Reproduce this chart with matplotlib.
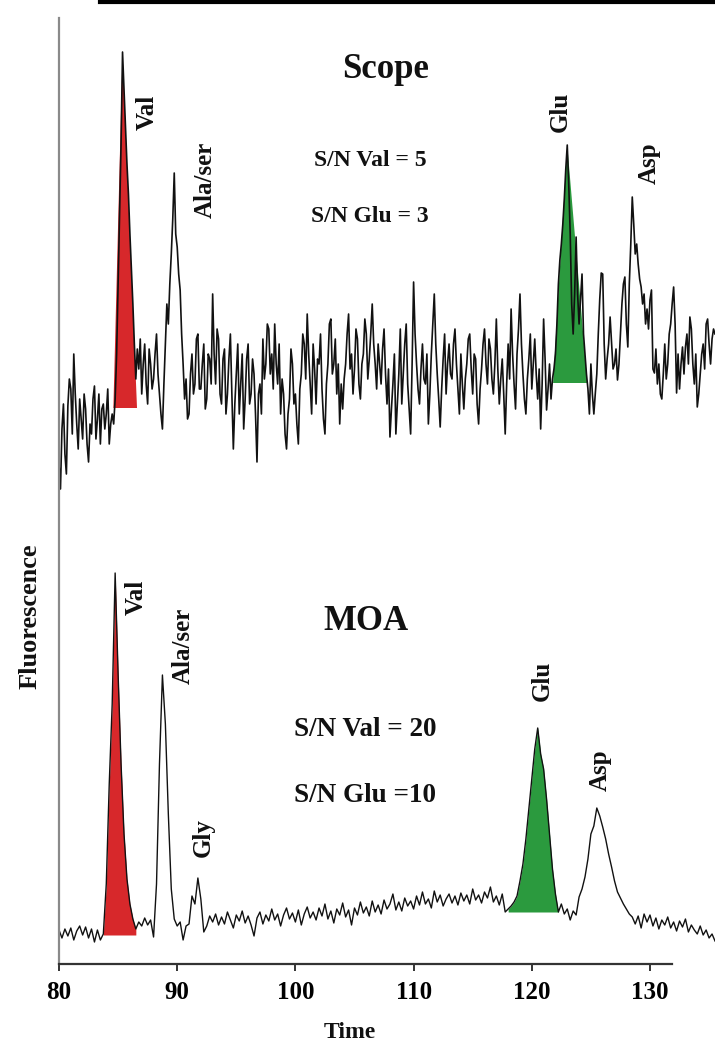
import numpy as np
import matplotlib
matplotlib.use("Agg")
import matplotlib.pyplot as plt
from matplotlib.lines import Line2D

# ---------------------------------------------------------------- data
t0 = 80.0            # first sample (time)
dt_scope = 0.125     # Scope sampling interval
dt_moa = 0.25        # MOA sampling interval

# Scope detector trace (arbitrary fluorescence units), 8 samples per time unit
scope = [
    50.0, 47.5, 53.5, 56.0, 51.0, 49.0, 55.8, 58.5,    # 80
    57.5, 53.0, 61.0, 57.0, 54.0, 51.5, 56.5, 54.5,    # 81
    52.5, 57.0, 55.5, 52.0, 50.2, 54.0, 53.0, 56.5,    # 82
    57.8, 52.5, 54.5, 57.0, 52.0, 55.5, 56.0, 53.5,    # 83
    55.0, 57.5, 52.0, 54.0, 55.0, 54.0, 56.5, 61.0,    # 84
    68.0, 75.0, 82.0, 91.2, 87.5, 84.0, 80.0, 77.0,    # 85
    73.0, 69.5, 66.0, 62.0, 58.5, 61.5, 59.5, 62.5,    # 86
    57.0, 60.0, 62.0, 58.0, 56.0, 61.5, 60.0, 57.5,    # 87
    58.5, 61.0, 63.0, 59.0, 57.0, 55.0, 53.5, 58.0,    # 88
    62.0, 66.0, 64.0, 68.0, 71.0, 74.5, 79.1, 73.0,    # 89
    71.7, 69.0, 67.4, 63.0, 60.0, 56.5, 58.5, 54.5,    # 90
    55.0, 59.0, 61.0, 57.0, 58.0, 62.5, 63.0, 57.5,    # 91
    57.5, 60.0, 62.0, 55.5, 56.5, 61.0, 60.5, 58.0,    # 92
    67.0, 61.0, 58.0, 63.5, 62.5, 57.0, 56.0, 60.5,    # 93
    61.5, 55.0, 57.0, 60.5, 63.0, 57.0, 51.5, 56.0,    # 94
    59.0, 62.0, 55.0, 58.0, 61.0, 53.5, 56.5, 60.5,    # 95
    62.0, 56.0, 57.0, 60.5, 59.0, 55.0, 50.2, 57.0,    # 96
    58.0, 55.0, 62.5, 58.5, 60.0, 64.0, 63.5, 59.0,    # 97
    61.0, 57.5, 64.0, 60.0, 58.0, 62.0, 55.0, 58.5,    # 98
    57.0, 53.0, 51.5, 55.0, 56.5, 61.5, 60.0, 56.0,    # 99
    57.0, 54.0, 52.0, 57.5, 59.0, 63.0, 62.0, 58.5,    # 100
    65.0, 61.0, 58.0, 55.0, 62.0, 59.5, 56.0, 60.5,    # 101
    60.0, 63.0, 57.5, 54.5, 53.0, 58.0, 60.0, 64.0,    # 102
    64.5, 59.0, 60.0, 62.5, 57.0, 60.0, 54.0, 58.0,    # 103
    55.5, 58.5, 60.0, 63.0, 65.0, 59.5, 61.0, 57.0,    # 104
    59.5, 63.5, 62.5, 58.0, 56.5, 60.0, 61.0, 64.5,    # 105
    63.0, 58.5, 60.5, 63.0, 66.0, 62.0, 60.0, 57.5,    # 106
    62.0, 60.0, 58.0, 61.5, 63.5, 59.0, 56.0, 59.5,    # 107
    52.7, 55.5, 58.0, 61.0, 53.0, 56.0, 59.0, 63.5,    # 108
    56.0, 59.0, 62.0, 64.0, 58.0, 55.5, 53.0, 60.0,    # 109
    68.2, 63.0, 60.0, 57.5, 56.0, 59.5, 62.0, 58.5,    # 110
    58.0, 61.0, 54.0, 57.0, 61.0, 64.0, 67.0, 62.0,    # 111
    59.0, 56.5, 53.7, 57.5, 60.5, 63.0, 57.0, 60.0,    # 112
    62.0, 59.0, 58.5, 62.0, 63.5, 60.0, 57.5, 55.0,    # 113
    61.0, 58.0, 55.5, 58.5, 60.0, 62.5, 63.0, 59.5,    # 114
    57.0, 61.0, 60.5, 56.0, 54.0, 57.5, 59.5, 62.0,    # 115
    63.5, 60.0, 58.0, 62.5, 61.5, 58.5, 57.0, 60.0,    # 116
    64.5, 59.5, 56.0, 58.5, 60.5, 57.0, 53.0, 58.0,    # 117
    62.0, 58.5, 65.5, 61.0, 58.0, 55.5, 61.0, 63.5,    # 118
    67.0, 62.0, 59.0, 56.5, 55.0, 58.5, 60.5, 63.0,    # 119
    57.5, 60.0, 62.5, 59.0, 56.5, 59.5, 53.5, 58.0,    # 120
    64.5, 60.5, 55.4, 57.5, 60.0, 56.5, 58.5, 59.5,    # 121
    61.0, 64.0, 68.0, 70.4, 72.0, 74.0, 76.5, 79.5,    # 122
    81.9, 78.0, 73.0, 66.0, 63.0, 67.0, 72.7, 67.0,    # 123
    64.0, 66.5, 69.0, 63.0, 61.0, 59.0, 57.5, 55.0,    # 124
    60.0, 57.0, 55.0, 57.1, 59.0, 63.0, 66.5, 69.1,    # 125
    69.0, 62.0, 58.5, 60.5, 62.0, 64.7, 62.0, 59.5,    # 126
    60.0, 61.5, 58.4, 60.0, 63.0, 66.0, 68.0, 68.7,    # 127
    64.0, 61.7, 68.0, 72.0, 76.7, 74.0, 71.0, 72.0,    # 128
    70.0, 68.5, 67.7, 66.0, 67.0, 64.0, 65.5, 63.5,    # 129
    66.4, 67.4, 59.5, 59.1, 61.5, 58.0, 60.0, 57.0,    # 130
    56.5, 59.0, 62.0, 58.5, 60.0, 63.0, 64.0, 66.0,    # 131
    67.7, 64.0, 57.1, 61.0, 57.5, 60.0, 61.7, 59.0,    # 132
    61.7, 63.0, 60.0, 64.7, 63.5, 60.0, 58.0, 61.0,    # 133
    55.7, 57.0, 59.0, 61.0, 62.0, 59.5, 64.0, 64.5,    # 134
    62.0, 60.0, 62.5, 63.5, 63.0,                      # 135
]

# MOA detector trace (arbitrary fluorescence units), 4 samples per time unit
moa = [
    3.4, 2.6, 3.5, 2.8,  3.6, 2.4, 3.3, 3.8,  2.9, 3.7, 2.6, 3.5,
    2.2, 3.4, 2.4, 3.0,  8.0, 18.0, 26.0, 39.1,  29.0, 20.0, 13.0, 8.5,
    6.0, 4.5, 3.5, 4.2,  3.8, 4.6, 3.9, 4.4,  2.7, 8.0, 20.0, 28.9,
    24.0, 15.0, 7.5, 4.5,  3.8, 4.2, 2.4, 3.8,  4.0, 6.8, 6.0, 8.6,
    6.5, 3.2, 3.8, 4.8,  4.2, 5.0, 3.9, 4.7,  4.0, 5.2, 4.4, 3.6,
    4.9, 4.3, 5.3, 4.1,  4.8, 3.9, 2.8, 4.6,  5.2, 4.0, 4.9, 4.3,
    5.5, 4.4, 5.0, 3.8,  4.9, 5.6, 4.5, 5.1,  4.2, 5.4, 3.9, 5.0,
    5.7, 4.6, 5.2, 4.4,  5.6, 4.8, 6.0, 4.5,  5.3, 4.1, 5.5, 4.9,
    6.1, 4.7, 5.4, 3.9,  5.6, 4.9, 6.2, 5.1,  5.7, 4.8, 6.3, 5.2,
    5.9, 5.0, 6.4, 5.5,  6.0, 7.0, 5.4, 6.2,  5.3, 6.6, 5.8, 6.3,
    5.5, 6.8, 5.9, 7.2,  6.0, 6.5, 5.6, 7.3,  6.2, 6.9, 5.8, 6.5,
    7.0, 6.1, 6.8, 5.9,  7.1, 6.3, 6.9, 6.0,  7.5, 6.4, 6.9, 6.1,
    7.2, 6.6, 7.7, 6.2,  6.8, 5.9, 7.0, 5.2,  5.5, 5.8, 6.2, 6.8,
    8.3, 10.0, 12.5, 15.5,  18.5, 21.5, 23.6, 21.0,  19.5, 16.5, 13.0, 9.5,
    7.0, 5.2, 6.0, 5.0,  5.5, 4.4, 5.3, 4.9,  6.7, 7.5, 8.7, 10.5,
    13.0, 13.8, 15.6, 14.8,  13.7, 12.5, 11.0, 9.7,  8.3, 7.2, 6.6, 6.0,
    5.5, 5.0, 4.7, 4.0,  4.8, 3.6, 5.0, 4.2,  4.9, 3.8, 4.6, 3.5,
    4.4, 3.9, 4.7, 3.6,  4.2, 3.3, 4.3, 3.7,  4.5, 3.2, 3.9, 3.4,
    3.0, 3.8, 2.9, 3.4,  2.6, 3.0, 2.3,
]

# integrated peaks: (start time, end time, baseline level)
scope_val_window = (84.6, 86.6, 55.6)
scope_glu_window = (121.8, 124.7, 58.1)
moa_val_window = (83.75, 86.5, 2.9)
moa_glu_window = (118.0, 122.25, 5.2)

x_ticks = [80, 90, 100, 110, 120, 130]

scope_peaks = ["Val", "Ala/ser", "Glu", "Asp"]
moa_peaks = ["Val", "Ala/ser", "Gly", "Glu", "Asp"]
scope_sn = ["S/N Val = 5", "S/N Glu = 3"]
moa_sn = ["S/N Val = 20", "S/N Glu =10"]

# ---------------------------------------------------------------- layout
RED = "#d7282b"
GREEN = "#2b9a3e"
SERIF = "Liberation Serif"

scope_peak_pos = [(87.45, 85.2), (92.35, 78.4), (122.4, 85.2), (129.9, 80.1)]
moa_peak_pos = [(86.5, 36.7), (90.5, 31.8), (92.2, 12.6), (120.9, 28.3), (125.8, 19.4)]

fig = plt.figure(figsize=(7.15, 10.43), dpi=100)
ax = fig.add_axes([59 / 715, 79 / 1043, 656 / 715, 950 / 1043])

scope_arr = np.asarray(scope)
moa_arr = np.asarray(moa)
t_scope = t0 + dt_scope * np.arange(scope_arr.size)
t_moa = t0 + dt_moa * np.arange(moa_arr.size)


def shade_triangle(t, y, window, color):
    """Triangular peak area: baseline edges joined to the trace apex."""
    start, end, base = window
    m = (t >= start) & (t <= end)
    k = int(np.argmax(y[m]))
    apex_t, apex_y = t[m][k], y[m][k]
    ax.fill([start, apex_t, end], [base, apex_y, base], color=color,
            linewidth=0, zorder=1)


def shade_trace(t, y, window, color):
    """Peak area following the trace between the window edges."""
    start, end, base = window
    m = (t >= start - 1e-9) & (t <= end + 1e-9)
    ax.fill_between(t[m], base, np.maximum(y[m], base), color=color,
                    linewidth=0, zorder=1)


shade_triangle(t_scope, scope_arr, scope_val_window, RED)
shade_triangle(t_scope, scope_arr, scope_glu_window, GREEN)
shade_trace(t_moa, moa_arr, moa_val_window, RED)
shade_trace(t_moa, moa_arr, moa_glu_window, GREEN)

ax.plot(t_scope, scope_arr, color="#111111", lw=1.2, zorder=2)
ax.plot(t_moa, moa_arr, color="#111111", lw=1.0, zorder=2)

ax.set_xlim(80, 135.5)
ax.set_ylim(0, 95)

for s in ("top", "right"):
    ax.spines[s].set_visible(False)
ax.spines["left"].set_color("#8a8a8a")
ax.spines["left"].set_linewidth(1.6)
ax.spines["left"].set_bounds(0, 94.6)
ax.spines["bottom"].set_color("#333333")
ax.spines["bottom"].set_linewidth(1.6)
ax.spines["bottom"].set_bounds(80, 131.9)

ax.set_yticks([])
ax.set_xticks(x_ticks)
ax.set_xticklabels([str(v) for v in x_ticks], fontfamily=SERIF,
                   fontweight="bold", fontsize=18)
ax.tick_params(axis="x", direction="out", length=5, width=1.4,
               color="#333333", pad=7)

bold = dict(fontfamily=SERIF, fontweight="bold", color="#111111")

for name, (x, y) in zip(scope_peaks, scope_peak_pos):
    ax.text(x, y, name, rotation=90, ha="center", va="center", fontsize=18, **bold)
for name, (x, y) in zip(moa_peaks, moa_peak_pos):
    ax.text(x, y, name, rotation=90, ha="center", va="center", fontsize=18, **bold)

ax.text(107.6, 89.4, "Scope", ha="center", va="center", fontsize=25, **bold)
ax.text(106.0, 34.3, "MOA", ha="center", va="center", fontsize=25, **bold)

for txt, y in zip(scope_sn, (80.4, 74.7)):
    ax.text(106.3, y, txt, ha="center", va="center", fontsize=17, **bold)
for txt, y in zip(moa_sn, (23.4, 16.9)):
    ax.text(105.9, y, txt, ha="center", va="center", fontsize=19.5, **bold)

fig.text(30 / 715, 1 - 616 / 1043, "Fluorescence", rotation=90,
         ha="center", va="center", fontsize=19, **bold)
fig.text(350 / 715, 1 - 1032 / 1043, "Time", ha="center", va="center",
         fontsize=17, **bold)

# rule along the top edge of the page
fig.add_artist(Line2D([100 / 715, 1.0], [1 - 2 / 1043, 1 - 2 / 1043],
                      transform=fig.transFigure, color="black", lw=3.0))

fig.savefig("out.png", dpi=100)
